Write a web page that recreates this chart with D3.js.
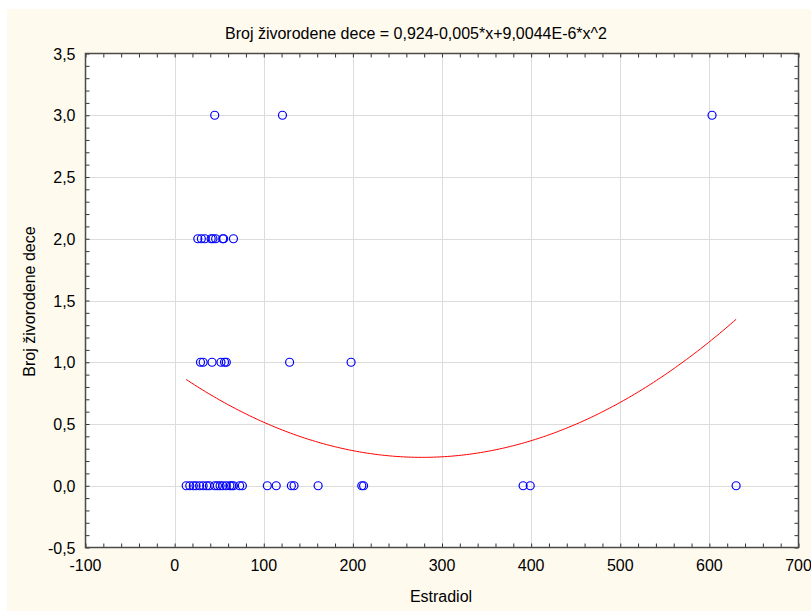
<!DOCTYPE html>
<html>
<head>
<meta charset="utf-8">
<script src="https://cdn.jsdelivr.net/npm/d3@7"></script>
<style>
  html, body { margin: 0; padding: 0; background: #ffffff; }
  svg { display: block; }
  text { font-family: "Liberation Sans", Arial, sans-serif; fill: #000; }
</style>
</head>
<body>
<svg id="chart" width="811" height="611"></svg>
<script>
// Estradiol vs. number of live-born children
const estradiolAt0 = [13, 17, 21, 24, 28, 32, 36, 39, 45, 48, 51, 54, 58, 62, 64, 66, 73, 76, 104, 114, 131, 134, 161, 210, 212, 391, 399, 630];
const estradiolAt1 = [29, 32, 42, 52, 56, 58, 129, 198];
const estradiolAt2 = [26, 30, 34, 41, 43, 46, 54, 55, 66];
const estradiolAt3 = [45, 121, 603];
const childCounts = [0, 1, 2, 3];

// Quadratic fit coefficients: y = b0 + b1*x + b2*x^2
const fitCoefs = [0.924, -0.005, 9.0044e-6];

const xTicks = [-100, 0, 100, 200, 300, 400, 500, 600, 700];
const yTicks = [-0.5, 0, 0.5, 1, 1.5, 2, 2.5, 3, 3.5];

const titleText = "Broj živorodene dece = 0,924-0,005*x+9,0044E-6*x^2";
const xLabel = "Estradiol";
const yLabel = "Broj živorodene dece";

const svg = d3.select("#chart");
const W = 811, H = 611;
const plot = { left: 85.5, right: 798.5, top: 53.5, bottom: 547.5 };
const FS = 16;

svg.append("rect").attr("x", 7).attr("y", 9).attr("width", W - 7).attr("height", H - 9)
  .attr("fill", "#fffaee");

const x = d3.scaleLinear().domain([-100, 700]).range([plot.left, plot.right]);
const y = d3.scaleLinear().domain([-0.5, 3.5]).range([plot.bottom, plot.top]);

svg.append("rect")
  .attr("x", plot.left).attr("y", plot.top)
  .attr("width", plot.right - plot.left).attr("height", plot.bottom - plot.top)
  .attr("fill", "#ffffff");

const fmt = v => d3.format(".1f")(v).replace(".", ",").replace("−", "-");

// grid lines
const grid = svg.append("g").attr("stroke", "#dcdcdc").attr("stroke-width", 1);
xTicks.slice(1, -1).forEach(t => {
  grid.append("line").attr("x1", Math.round(x(t)) + 0.5).attr("x2", Math.round(x(t)) + 0.5)
    .attr("y1", plot.top).attr("y2", plot.bottom);
});
yTicks.slice(1, -1).forEach(t => {
  grid.append("line").attr("y1", Math.round(y(t)) + 0.5).attr("y2", Math.round(y(t)) + 0.5)
    .attr("x1", plot.left).attr("x2", plot.right);
});

// minor ticks on all four sides, pointing inward
const xMinor = d3.range(-100, 700.001, 20);
const yMinor = d3.range(-0.5, 3.5001, 0.1);
const tickColor = "#333";
const bottomAxis = d3.axisBottom(x).tickValues(xMinor).tickSizeInner(-4).tickSizeOuter(0).tickFormat("");
const topAxis = d3.axisTop(x).tickValues(xMinor).tickSizeInner(-4).tickSizeOuter(0).tickFormat("");
const leftAxis = d3.axisLeft(y).tickValues(yMinor).tickSizeInner(-4).tickSizeOuter(0).tickFormat("");
const rightAxis = d3.axisRight(y).tickValues(yMinor).tickSizeInner(-4).tickSizeOuter(0).tickFormat("");

[[bottomAxis, `translate(0,${plot.bottom})`], [topAxis, `translate(0,${plot.top})`],
 [leftAxis, `translate(${plot.left},0)`], [rightAxis, `translate(${plot.right},0)`]].forEach(([ax, tr]) => {
  const g = svg.append("g").attr("transform", tr).call(ax);
  g.select(".domain").remove();
  g.selectAll("line").attr("stroke", tickColor);
});

// frame
svg.append("rect")
  .attr("x", plot.left).attr("y", plot.top)
  .attr("width", plot.right - plot.left).attr("height", plot.bottom - plot.top)
  .attr("fill", "none").attr("stroke", "#4a4a4a").attr("stroke-width", 1.5);

// tick labels
svg.append("g").selectAll("text").data(xTicks).join("text")
  .attr("x", d => x(d)).attr("y", plot.bottom + 23)
  .attr("text-anchor", "middle").attr("font-size", FS)
  .text(d => String(d));

svg.append("g").selectAll("text").data(yTicks).join("text")
  .attr("x", plot.left - 10).attr("y", d => y(d) + 6)
  .attr("text-anchor", "end").attr("font-size", FS)
  .text(d => fmt(d));

// titles
svg.append("text").attr("x", 416).attr("y", 39)
  .attr("text-anchor", "middle").attr("font-size", FS).text(titleText);
svg.append("text").attr("x", (plot.left + plot.right) / 2 - 1).attr("y", 602)
  .attr("text-anchor", "middle").attr("font-size", FS).text(xLabel);
svg.append("text")
  .attr("transform", `translate(35,${(plot.top + plot.bottom) / 2 + 1}) rotate(-90)`)
  .attr("text-anchor", "middle").attr("font-size", FS).text(yLabel);

// fitted curve over the observed estradiol range
const allX = [].concat(estradiolAt0, estradiolAt1, estradiolAt2, estradiolAt3);
const [xmin, xmax] = d3.extent(allX);
const fit = v => fitCoefs[0] + fitCoefs[1] * v + fitCoefs[2] * v * v;
const curveXs = d3.range(xmin, xmax, (xmax - xmin) / 200).concat([xmax]);
svg.append("path")
  .datum(curveXs)
  .attr("fill", "none").attr("stroke", "#ff0000").attr("stroke-width", 1)
  .attr("d", d3.line().x(d => x(d)).y(d => y(fit(d))));

// observations
const groups = [estradiolAt0, estradiolAt1, estradiolAt2, estradiolAt3];
const pts = [];
groups.forEach((arr, i) => arr.forEach(v => pts.push({ x: v, y: childCounts[i] })));
svg.append("g").selectAll("circle").data(pts).join("circle")
  .attr("cx", d => x(d.x)).attr("cy", d => y(d.y)).attr("r", 4)
  .attr("fill", "none").attr("stroke", "#0000ff").attr("stroke-width", 1.2);
</script>
</body>
</html>
